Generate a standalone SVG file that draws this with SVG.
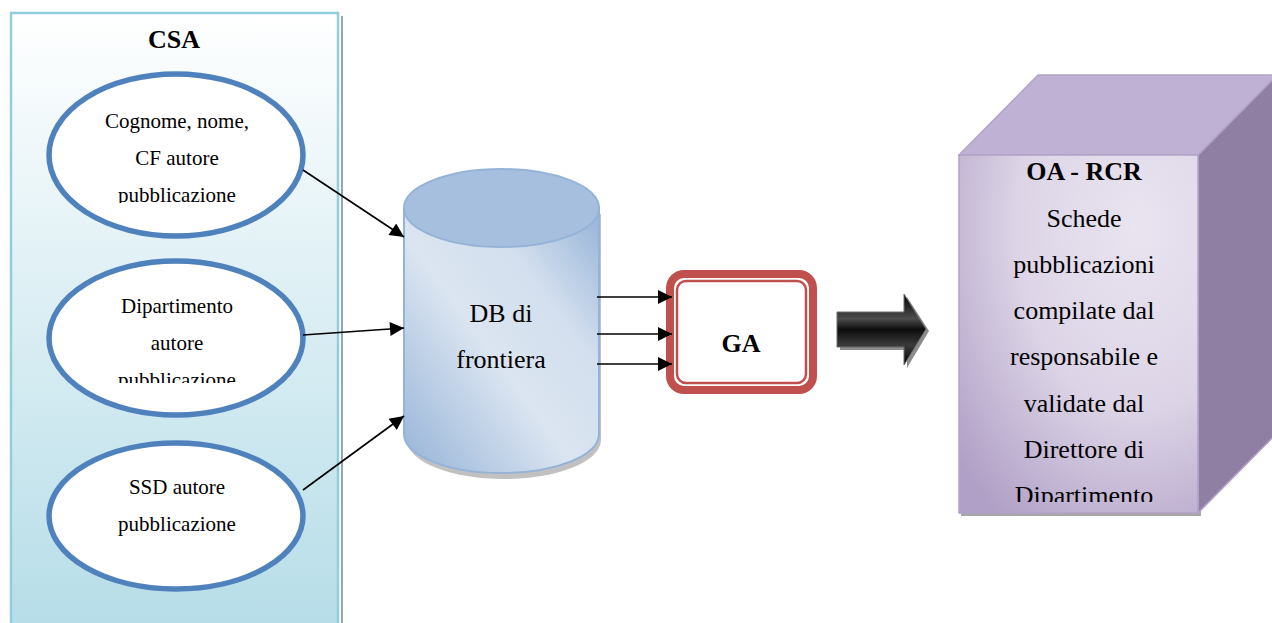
<svg xmlns="http://www.w3.org/2000/svg" width="1272" height="623" viewBox="0 0 1272 623">
<style>
.t{font-family:"Liberation Serif","Times New Roman",serif;fill:#000;text-anchor:middle}
.s21{font-size:21px}
.s26{font-size:26px}
.b{font-weight:bold}
.ell{fill:#fff;stroke:#4f81bd;stroke-width:5.5}
.conn{stroke:#000;stroke-width:1.6;fill:none}
</style>
<defs>
<linearGradient id="gCsa" x1="0" y1="0" x2="0" y2="1">
<stop offset="0" stop-color="#ffffff"/>
<stop offset="1" stop-color="#b6dde8"/>
</linearGradient>
<linearGradient id="gCyl" x1="0" y1="1" x2="1" y2="0">
<stop offset="0" stop-color="#95b3d7"/>
<stop offset="0.45" stop-color="#dbe5f1"/>
<stop offset="0.7" stop-color="#d3dfee"/>
<stop offset="1" stop-color="#95b3d7"/>
</linearGradient>
<linearGradient id="gArr" x1="0" y1="0" x2="0" y2="1">
<stop offset="0" stop-color="#000"/>
<stop offset="0.35" stop-color="#4d4d4d"/>
<stop offset="0.5" stop-color="#0d0d0d"/>
<stop offset="0.72" stop-color="#3a3a3a"/>
<stop offset="1" stop-color="#000"/>
</linearGradient>
<radialGradient id="gFront" cx="0.75" cy="0.2" r="1">
<stop offset="0" stop-color="#e9e4f0"/>
<stop offset="0.5" stop-color="#ddd5e7"/>
<stop offset="1" stop-color="#b09fc6"/>
</radialGradient>
<marker id="ah" viewBox="0 0 10 10" refX="10" refY="5" markerWidth="10" markerHeight="10" markerUnits="userSpaceOnUse" orient="auto">
<path d="M0,0 L10,5 L0,10 z" fill="#000"/>
</marker>
<marker id="ah2" viewBox="0 0 14 14" refX="14" refY="7" markerWidth="16" markerHeight="14" markerUnits="userSpaceOnUse" orient="auto">
<path d="M0,0 L14,7 L0,14 z" fill="#000"/>
</marker>
<clipPath id="c1"><rect x="40" y="90" width="280" height="113"/></clipPath>
<clipPath id="c2"><rect x="40" y="280" width="280" height="103"/></clipPath>
<clipPath id="c8"><rect x="960" y="150" width="236" height="352"/></clipPath>
</defs>

<g id="csa">
<rect x="341" y="16" width="2" height="610" fill="#8fa9b0"/>
<rect x="11" y="13" width="327" height="615" fill="url(#gCsa)" stroke="#93cddd" stroke-width="2.5"/>
<text class="t s26 b" x="174" y="48">CSA</text>
</g>

<g id="ell1">
<ellipse class="ell" cx="176" cy="155" rx="127" ry="81"/>
<g clip-path="url(#c1)">
<text class="t s21" x="177" y="128">Cognome, nome,</text>
<text class="t s21" x="177" y="165">CF autore</text>
<text class="t s21" x="177" y="202">pubblicazione</text>
</g>
</g>

<g id="ell2">
<ellipse class="ell" cx="176" cy="338" rx="127" ry="77"/>
<g clip-path="url(#c2)">
<text class="t s21" x="177" y="313">Dipartimento</text>
<text class="t s21" x="177" y="350">autore</text>
<text class="t s21" x="177" y="387">pubblicazione</text>
</g>
</g>

<g id="ell3">
<ellipse class="ell" cx="176" cy="516" rx="127" ry="73"/>
<text class="t s21" x="177" y="494">SSD autore</text>
<text class="t s21" x="177" y="531">pubblicazione</text>
</g>

<g id="db">
<path d="M405,211 L405,437 A97,39 0 0 0 599,437 L599,211 Z" fill="#a6a6a6" transform="translate(2,3)" opacity="0.7"/>
<path d="M404,208 L404,434 A97.5,39 0 0 0 599,434 L599,208 Z" fill="url(#gCyl)" stroke="#95b3d7" stroke-width="2"/>
<ellipse cx="501.5" cy="208" rx="97.5" ry="39" fill="#a7bfde" stroke="#95b3d7" stroke-width="2"/>
<text class="t s26" x="501" y="322">DB di</text>
<text class="t s26" x="501" y="368">frontiera</text>
</g>

<g id="ga">
<rect x="670" y="274" width="143" height="116" rx="14" fill="#fff" stroke="#c0504d" stroke-width="8"/>
<rect x="677" y="281" width="129" height="102" rx="9" fill="#fff" stroke="#c0504d" stroke-width="2.5"/>
<text class="t s26 b" x="741" y="352">GA</text>
</g>

<g id="bigarrow">
<path d="M840,315 L907,315 L907,297 L929,331 L907,368 L907,350 L840,350 Z" fill="#8c8c8c"/>
<path d="M837,312 L904,312 L904,294 L926,329 L904,365 L904,347 L837,347 Z" fill="url(#gArr)" stroke="#6d6d6d" stroke-width="1"/>
</g>

<g id="oa">
<path d="M961,158 L1201,158 L1201,516 L961,516 Z" fill="#a6a6a6"/>
<path d="M1198,155 L1277,75 L1277,433 L1198,513 Z" fill="#8e7fa3" stroke="#b3a2c7" stroke-width="1.5"/>
<path d="M959,155 L1038,75 L1277,75 L1198,155 Z" fill="#bfb1d3" stroke="#b3a2c7" stroke-width="1.5"/>
<rect x="959" y="155" width="239" height="358" fill="url(#gFront)" stroke="#b3a2c7" stroke-width="1.5"/>
<text class="t s26 b" x="1084" y="180">OA - RCR</text>
<g clip-path="url(#c8)">
<text class="t s26" x="1084" y="227">Schede</text>
<text class="t s26" x="1084" y="273">pubblicazioni</text>
<text class="t s26" x="1084" y="319">compilate dal</text>
<text class="t s26" x="1084" y="365">responsabile e</text>
<text class="t s26" x="1084" y="412">validate dal</text>
<text class="t s26" x="1084" y="458">Direttore di</text>
<text class="t s26" x="1084" y="504">Dipartimento</text>
</g>
</g>

<g id="connectors">
<line class="conn" x1="303" y1="170" x2="404" y2="237" marker-end="url(#ah2)"/>
<line class="conn" x1="303" y1="335" x2="404" y2="328" marker-end="url(#ah2)"/>
<line class="conn" x1="303" y1="490" x2="404" y2="416" marker-end="url(#ah2)"/>
<line class="conn" x1="597" y1="297" x2="672" y2="297" marker-end="url(#ah2)"/>
<line class="conn" x1="597" y1="334" x2="672" y2="334" marker-end="url(#ah2)"/>
<line class="conn" x1="597" y1="364" x2="672" y2="364" marker-end="url(#ah2)"/>
</g>
</svg>
